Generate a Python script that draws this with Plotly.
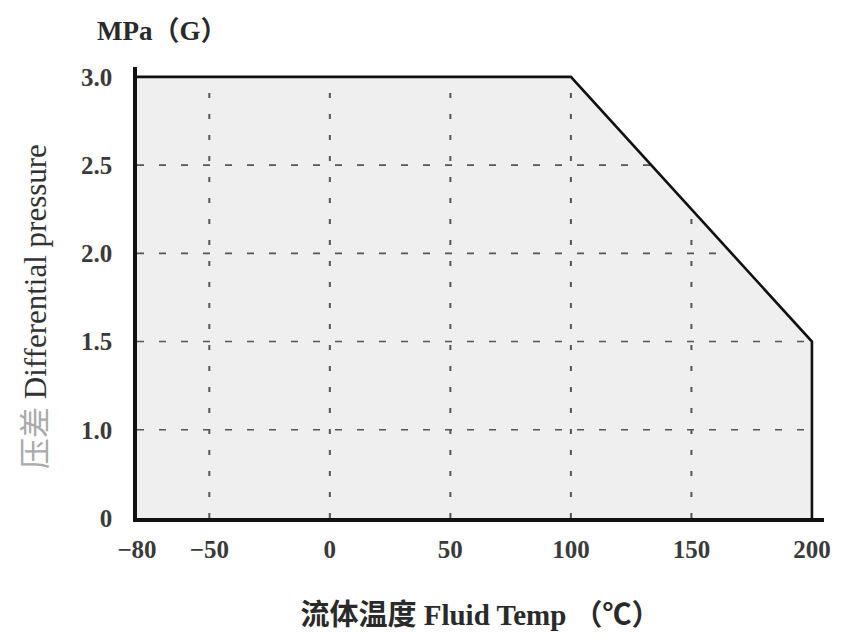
import numpy as np
import plotly.graph_objects as go

# ---- data ----
temps = [-80, 100, 200, 200]          # °C
pressure = [3.0, 3.0, 1.5, 0.0]       # MPa (G)
x_ticks = [-80, -50, 0, 50, 100, 150, 200]
x_tick_text = ["−80", "−50", "0", "50", "100", "150", "200"]
y_ticks = [0.5, 1.0, 1.5, 2.0, 2.5, 3.0]   # axis is broken: bottom shown as "0"
y_tick_text = ["0", "1.0", "1.5", "2.0", "2.5", "3.0"]
x_grid = [-50, 0, 50, 100, 150]
y_grid = [1.0, 1.5, 2.0, 2.5]

y_floor = y_ticks[0]
x_range = [-80, 205]
y_range = [y_floor, 3.056]

font_latin = "Liberation Serif, Times New Roman, Noto Sans CJK SC, serif"

fig = go.Figure()

# filled region
fig.add_trace(go.Scatter(x=temps, y=pressure, mode="lines", fill="tozeroy",
                         fillcolor="#efefef", line=dict(width=0),
                         hoverinfo="skip", showlegend=False))

# grid lines only inside the region
curve_x = temps[:3]
curve_y = pressure[:3]
for g in y_grid:
    xe = float(np.interp(g, curve_y[::-1], curve_x[::-1]))
    fig.add_trace(go.Scatter(x=[x_range[0], xe], y=[g, g], mode="lines",
                             line=dict(color="#555555", width=1.6, dash="7px,15px"),
                             hoverinfo="skip", showlegend=False))
for v in x_grid:
    ye = float(np.interp(v, curve_x, curve_y))
    fig.add_trace(go.Scatter(x=[v, v], y=[y_floor, ye], mode="lines",
                             line=dict(color="#555555", width=2, dash="5px,16px"),
                             hoverinfo="skip", showlegend=False))

# boundary line
fig.add_trace(go.Scatter(x=temps, y=pressure, mode="lines",
                         line=dict(color="#111111", width=2.6),
                         hoverinfo="skip", showlegend=False))

fig.update_layout(
    width=839, height=636,
    margin=dict(l=129, r=23, t=59, b=126),
    paper_bgcolor="white", plot_bgcolor="white",
    font=dict(family=font_latin, size=20, color="#333333"),
    xaxis=dict(range=x_range, tickvals=x_ticks, ticktext=x_tick_text,
               showgrid=False, zeroline=False, showline=True,
               linecolor="#111111", linewidth=3.5,
               ticks="outside", ticklen=6, tickcolor="rgba(0,0,0,0)",
               tickfont=dict(family=font_latin, size=25, color="#3a3a3a", weight="bold"),
               title=dict(text="<b>流体温度 Fluid Temp （℃）</b>", standoff=44,
                          font=dict(family=font_latin, size=29, color="#2a2a2a"))),
    yaxis=dict(range=y_range, tickvals=y_ticks, ticktext=y_tick_text,
               showgrid=False, zeroline=False, showline=True,
               linecolor="#111111", linewidth=3.5,
               ticks="outside", ticklen=16, tickcolor="rgba(0,0,0,0)",
               tickfont=dict(family=font_latin, size=25, color="#3a3a3a", weight="bold")),
    annotations=[
        dict(text="<b>MPa（G）</b>", xref="paper", yref="paper",
             x=-0.061, y=1.0, yshift=36, xanchor="left", yanchor="middle",
             showarrow=False,
             font=dict(family=font_latin, size=27, color="#2a2a2a")),
        dict(text="<span style='color:#aaaaaa'>压差</span> Differential pressure",
             xref="paper", yref="paper", x=-0.147, y=0.468,
             xanchor="center", yanchor="middle", textangle=-90, showarrow=False,
             font=dict(family=font_latin, size=31, color="#333333")),
    ],
)

fig.write_html("out.html")
